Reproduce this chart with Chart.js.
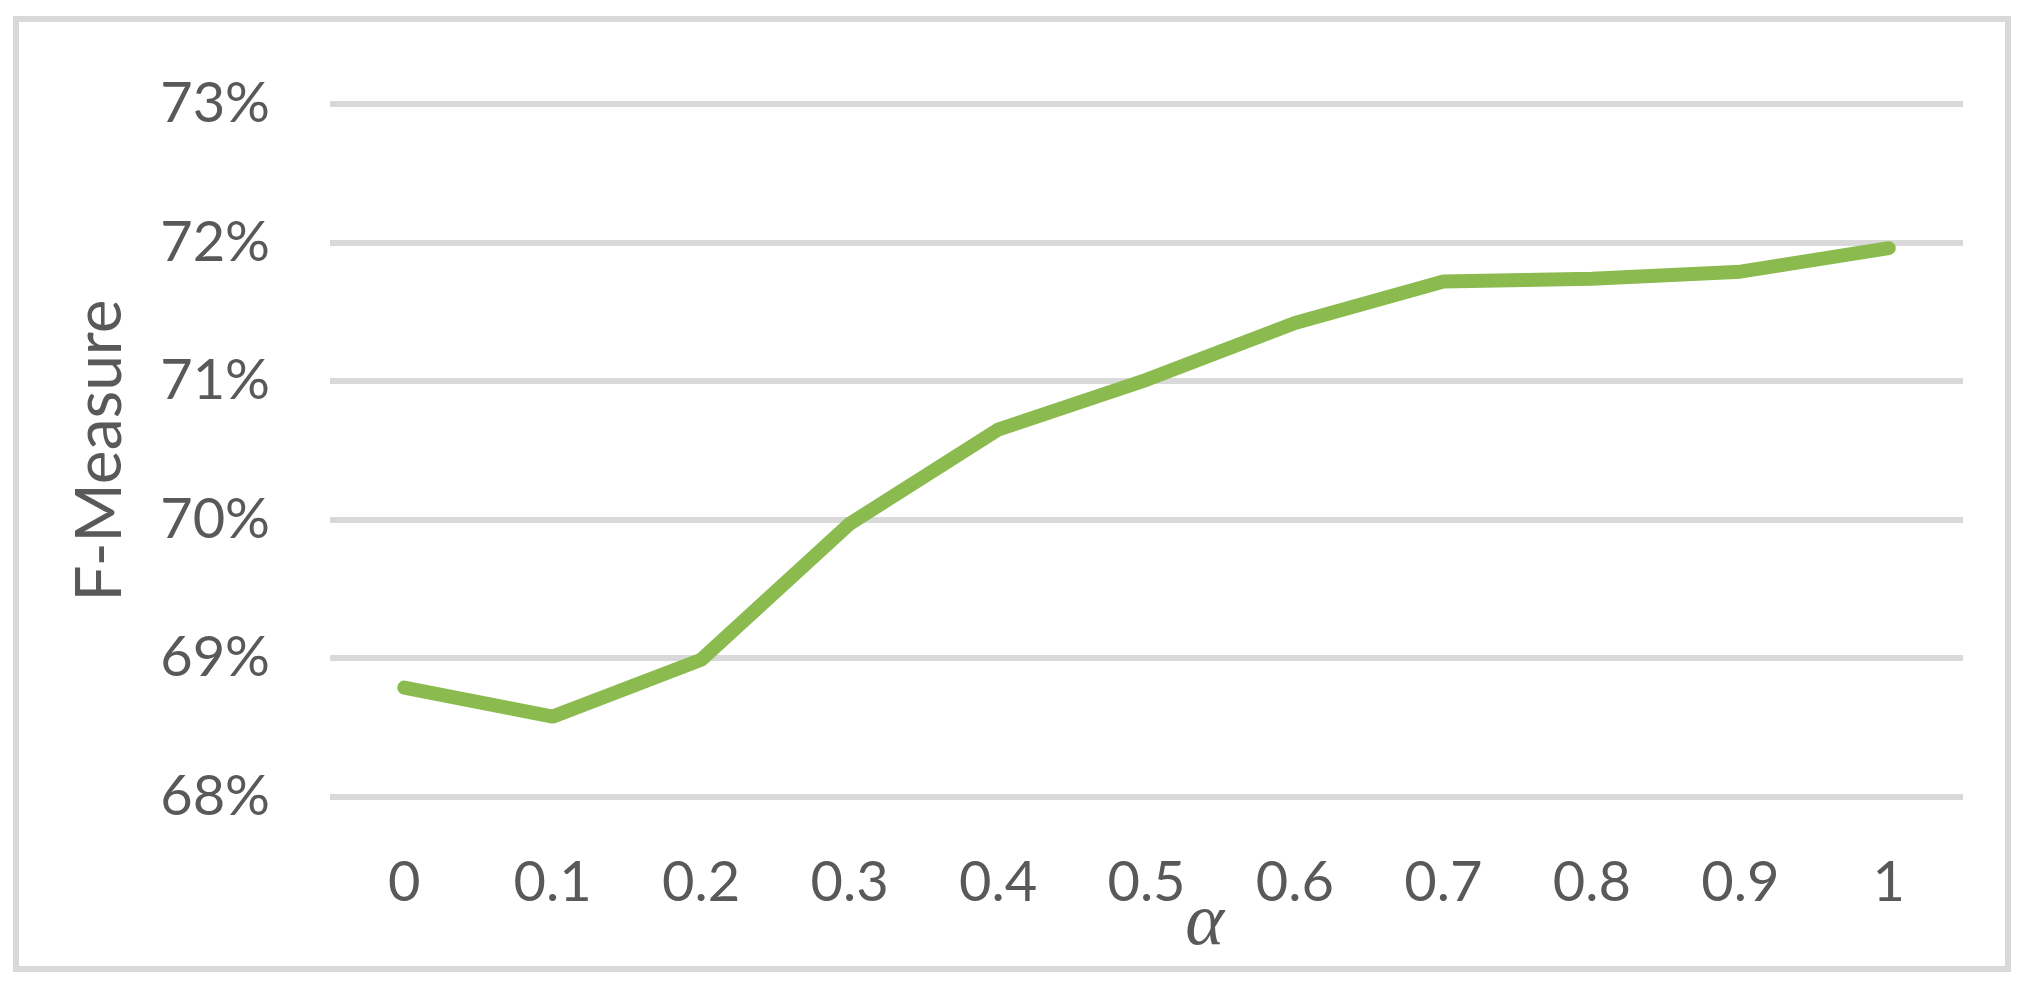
<!DOCTYPE html>
<html>
<head>
<meta charset="utf-8">
<script src="https://cdn.jsdelivr.net/npm/chart.js@4/dist/chart.umd.min.js"></script>
<style>
  html, body { margin: 0; padding: 0; background: #fff; }
  #wrap { position: relative; width: 2032px; height: 988px; }
  #frame {
    position: absolute; left: 13px; top: 16px; width: 1998px; height: 956px;
    box-sizing: border-box; border: 6px solid #d9d9d9; pointer-events: none;
  }
  canvas { position: absolute; left: 0; top: 0; }
</style>
</head>
<body>
<div id="wrap">
  <canvas id="fChart" width="2032" height="988"></canvas>
  <div id="frame"></div>
</div>
<script>
// alpha values on the x axis
const alphaLabels = ['0', '0.1', '0.2', '0.3', '0.4', '0.5', '0.6', '0.7', '0.8', '0.9', '1'];
// F-Measure in percent
const fMeasure = [68.79, 68.58, 68.99, 69.97, 70.65, 71.01, 71.42, 71.72, 71.74, 71.79, 71.96];
const yTicks = [68, 69, 70, 71, 72, 73];

const TEXT = '#595959';
const GRID = '#d9d9d9';
const LINE = '#8bbb4f';

// the italic alpha under the axis, sits between 0.5 and 0.6
const alphaTitle = {
  id: 'alphaTitle',
  afterDraw(chart) {
    const x = chart.scales.x;
    const ctx = chart.ctx;
    const px = (x.getPixelForTick(5) + x.getPixelForTick(6)) / 2 - 16;
    ctx.save();
    ctx.font = 'italic 74px "Liberation Serif", "DejaVu Serif", serif';
    ctx.fillStyle = TEXT;
    ctx.textAlign = 'center';
    ctx.textBaseline = 'middle';
    ctx.fillText('\u03b1', px, chart.chartArea.bottom + 128);
    ctx.restore();
  }
};

new Chart(document.getElementById('fChart').getContext('2d'), {
  type: 'line',
  data: {
    labels: alphaLabels,
    datasets: [{
      label: 'F-Measure',
      data: fMeasure,
      borderColor: LINE,
      backgroundColor: LINE,
      borderWidth: 14,
      borderCapStyle: 'round',
      borderJoinStyle: 'round',
      pointRadius: 0,
      tension: 0,
      fill: false
    }]
  },
  options: {
    responsive: false,
    animation: false,
    layout: { padding: { top: 104, right: 69, left: 0, bottom: 0 } },
    plugins: { legend: { display: false }, tooltip: { enabled: false } },
    scales: {
      x: {
        offset: true,
        grid: { display: false, drawTicks: false },
        border: { display: false },
        ticks: {
          color: TEXT,
          padding: 52,
          maxRotation: 0,
          font: { family: 'Lato', size: 56 }
        },
        afterFit(s) { s.height = 191; }
      },
      y: {
        min: yTicks[0],
        max: yTicks[yTicks.length - 1],
        afterBuildTicks(s) { s.ticks = yTicks.map(v => ({ value: v })); },
        grid: { color: GRID, lineWidth: 6, drawTicks: false },
        border: { display: false },
        ticks: {
          color: TEXT,
          padding: 60,
          font: { family: 'Lato', size: 56 },
          callback: v => v + '%'
        },
        title: {
          display: true,
          text: 'F-Measure',
          color: TEXT,
          font: { family: 'Lato', size: 64 },
          padding: { top: 62, bottom: 0 }
        },
        afterFit(s) { s.width = 330; }
      }
    }
  },
  plugins: [alphaTitle]
});
</script>
</body>
</html>
